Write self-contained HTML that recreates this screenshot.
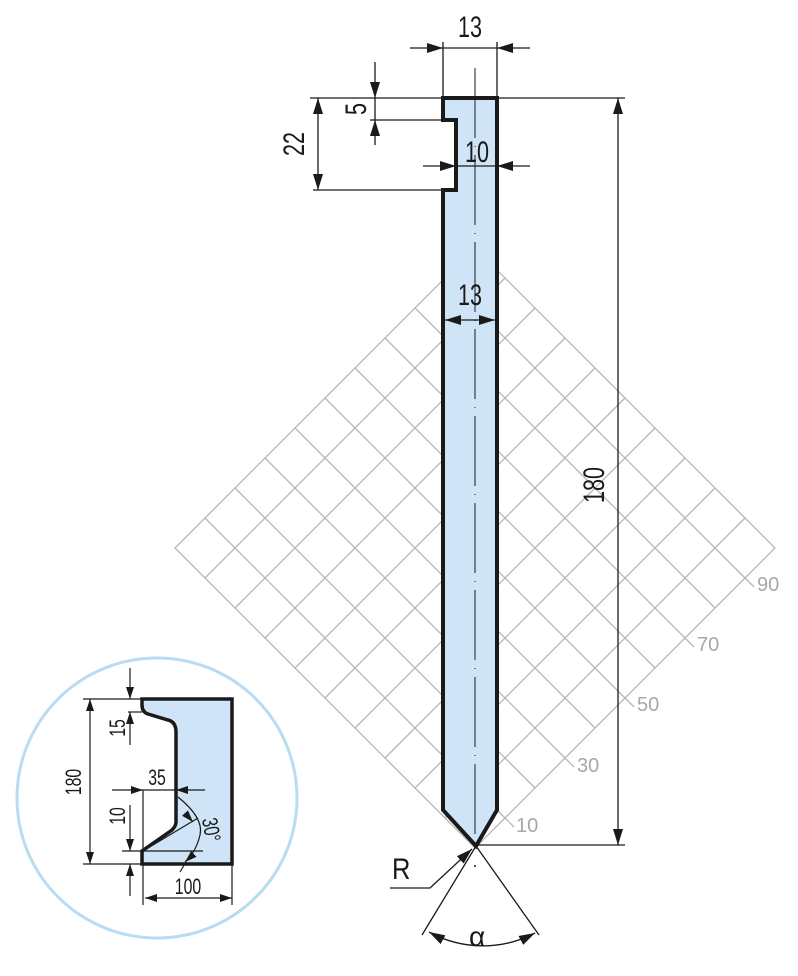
<!DOCTYPE html>
<html><head><meta charset="utf-8"><style>
html,body{margin:0;padding:0;background:#fff}
svg{display:block}
text{font-family:"Liberation Sans",sans-serif;fill:#1a1a1a}
</style></head><body>
<svg width="798" height="976" viewBox="0 0 798 976" xmlns="http://www.w3.org/2000/svg">
<defs>
<marker id="a" viewBox="0 0 16 10" refX="16" refY="5" markerWidth="16" markerHeight="10" markerUnits="userSpaceOnUse" orient="auto-start-reverse"><path d="M0,0L16,5L0,10z" fill="#1a1a1a"/></marker>
<marker id="s" viewBox="0 0 12 8" refX="12" refY="4" markerWidth="12" markerHeight="8" markerUnits="userSpaceOnUse" orient="auto-start-reverse"><path d="M0,0L12,4L0,8z" fill="#1a1a1a"/></marker>
<clipPath id="dc"><polygon points="475,248 775,548 475,848 175,548"/></clipPath>
</defs>
<g stroke="#b5b5b5" stroke-width="1.3" fill="none">
<polygon points="475,248 775,548 475,848 175,548"/>
<line x1="505" y1="818" x2="514" y2="827"/>
<line x1="565" y1="758" x2="574" y2="767"/>
<line x1="625" y1="698" x2="634" y2="707"/>
<line x1="685" y1="638" x2="694" y2="647"/>
<line x1="745" y1="578" x2="754" y2="587"/>
</g>
<g stroke="#b5b5b5" stroke-width="1.3" clip-path="url(#dc)">
<line x1="205" y1="518" x2="505" y2="818"/><line x1="235" y1="488" x2="535" y2="788"/><line x1="265" y1="458" x2="565" y2="758"/><line x1="295" y1="428" x2="595" y2="728"/><line x1="325" y1="398" x2="625" y2="698"/><line x1="355" y1="368" x2="655" y2="668"/><line x1="385" y1="338" x2="685" y2="638"/><line x1="415" y1="308" x2="715" y2="608"/><line x1="445" y1="278" x2="745" y2="578"/>
<line x1="205" y1="578" x2="505" y2="278"/><line x1="235" y1="608" x2="535" y2="308"/><line x1="265" y1="638" x2="565" y2="338"/><line x1="295" y1="668" x2="595" y2="368"/><line x1="325" y1="698" x2="625" y2="398"/><line x1="355" y1="728" x2="655" y2="428"/><line x1="385" y1="758" x2="685" y2="458"/><line x1="415" y1="788" x2="715" y2="488"/><line x1="445" y1="818" x2="745" y2="518"/>
</g>
<g font-size="20">
<text x="516" y="832" style="fill:#a8a8a8">10</text>
<text x="577" y="772" style="fill:#a8a8a8">30</text>
<text x="637" y="711" style="fill:#a8a8a8">50</text>
<text x="697" y="651" style="fill:#a8a8a8">70</text>
<text x="757" y="591" style="fill:#a8a8a8">90</text>
</g>
<polygon points="443,98 497,98 497,810 476,846 443,810 443,190 456,190 456,120 443,120" fill="#cfe5f7" stroke="#1a1a1a" stroke-width="4" stroke-linejoin="miter"/>
<line x1="475" y1="68" x2="475" y2="842" stroke="#1a1a1a" stroke-width="1" stroke-dasharray="70,8,1,8"/>
<g stroke="#1a1a1a" stroke-width="1.3" fill="none">
<line x1="443" y1="42" x2="443" y2="98"/><line x1="497" y1="42" x2="497" y2="98"/>
<line x1="443" y1="48" x2="497" y2="48"/>
<line x1="410" y1="48" x2="443" y2="48" marker-end="url(#a)"/>
<line x1="530" y1="48" x2="497" y2="48" marker-end="url(#a)"/>
<line x1="310" y1="98" x2="625" y2="98"/>
<line x1="370" y1="120" x2="443" y2="120"/>
<line x1="313" y1="190" x2="443" y2="190"/>
<line x1="375" y1="62" x2="375" y2="98" marker-end="url(#a)"/>
<line x1="375" y1="145" x2="375" y2="120" marker-end="url(#a)"/>
<line x1="375" y1="98" x2="375" y2="120"/>
<line x1="318" y1="98" x2="318" y2="190" marker-start="url(#a)" marker-end="url(#a)"/>
<line x1="423" y1="166" x2="456" y2="166" marker-end="url(#a)"/>
<line x1="530" y1="166" x2="497" y2="166" marker-end="url(#a)"/>
<line x1="456" y1="166" x2="497" y2="166"/>
<line x1="445" y1="320" x2="495" y2="320" marker-start="url(#a)" marker-end="url(#a)"/>
<line x1="618" y1="98" x2="618" y2="845" marker-start="url(#a)" marker-end="url(#a)"/>
<line x1="476" y1="845" x2="625" y2="845"/>
<polyline points="390,888 430,888 472,849" marker-end="url(#a)"/>
<line x1="476" y1="846" x2="422" y2="935"/>
<line x1="476" y1="846" x2="539" y2="935"/>
<path d="M429,932 A112,112 0 0 0 535,933" marker-start="url(#a)" marker-end="url(#a)"/>
</g>
<circle cx="475" cy="866" r="1" fill="#1a1a1a"/>
<g font-size="30">
<text text-anchor="middle" transform="translate(470 37) scale(0.72 1)">13</text>
<text text-anchor="middle" transform="translate(477 162) scale(0.72 1)">10</text>
<text text-anchor="middle" transform="translate(470 305) scale(0.72 1)">13</text>
<text transform="translate(366 109) rotate(-90) scale(0.72 1)" text-anchor="middle">5</text>
<text transform="translate(304 144) rotate(-90) scale(0.72 1)" text-anchor="middle">22</text>
<text transform="translate(604 485) rotate(-90) scale(0.72 1)" text-anchor="middle">180</text>
<text transform="translate(392 879) scale(0.85 1)">R</text>
<text x="469" y="946" font-size="28">α</text>
</g>
<circle cx="157" cy="798" r="140" fill="none" stroke="#b9dcf2" stroke-width="3"/>
<path d="M142,699 L232,699 L232,864 L142,864 L142,851 L172,830 Q176,826 176,822 L176,732 Q176,722 168,720 L148,714 Q142,712 142,705 Z" fill="#cfe5f7" stroke="#1a1a1a" stroke-width="3.5"/>
<g stroke="#1a1a1a" stroke-width="1.2" fill="none">
<line x1="83" y1="699" x2="142" y2="699"/><line x1="83" y1="864" x2="142" y2="864"/>
<line x1="90" y1="699" x2="90" y2="864" marker-start="url(#s)" marker-end="url(#s)"/>
<line x1="128" y1="712" x2="142" y2="712"/>
<line x1="130" y1="668" x2="130" y2="699" marker-end="url(#s)"/>
<line x1="130" y1="745" x2="130" y2="712" marker-end="url(#s)"/>
<line x1="122" y1="851" x2="203" y2="851"/>
<line x1="130" y1="805" x2="130" y2="851" marker-end="url(#s)"/>
<line x1="130" y1="896" x2="130" y2="864" marker-end="url(#s)"/>
<line x1="143" y1="790" x2="143" y2="905"/>
<line x1="112" y1="790" x2="143" y2="790" marker-end="url(#s)"/>
<line x1="205" y1="790" x2="176" y2="790" marker-end="url(#s)"/>
<line x1="143" y1="790" x2="176" y2="790"/>
<line x1="143" y1="851" x2="198" y2="818"/>
<path d="M178,797 Q204,818 200,835 Q196,852 185,862" marker-end="url(#s)"/>
<line x1="185" y1="813" x2="193" y2="822" marker-end="url(#s)"/>
<line x1="180" y1="872" x2="186" y2="862"/>
<line x1="232" y1="864" x2="232" y2="905"/>
<line x1="145" y1="898" x2="232" y2="898" marker-start="url(#s)" marker-end="url(#s)"/>
</g>
<g font-size="22">
<text transform="translate(81 782) rotate(-90) scale(0.72 1)" text-anchor="middle">180</text>
<text transform="translate(125 728) rotate(-90) scale(0.72 1)" text-anchor="middle">15</text>
<text transform="translate(125 816) rotate(-90) scale(0.72 1)" text-anchor="middle">10</text>
<text text-anchor="middle" transform="translate(157 785) scale(0.72 1)">35</text>
<text text-anchor="middle" transform="translate(188 894) scale(0.72 1)">100</text>
<text transform="translate(204 831) rotate(80) scale(0.72 1)" text-anchor="middle">30°</text>
</g>
</svg>
</body></html>
